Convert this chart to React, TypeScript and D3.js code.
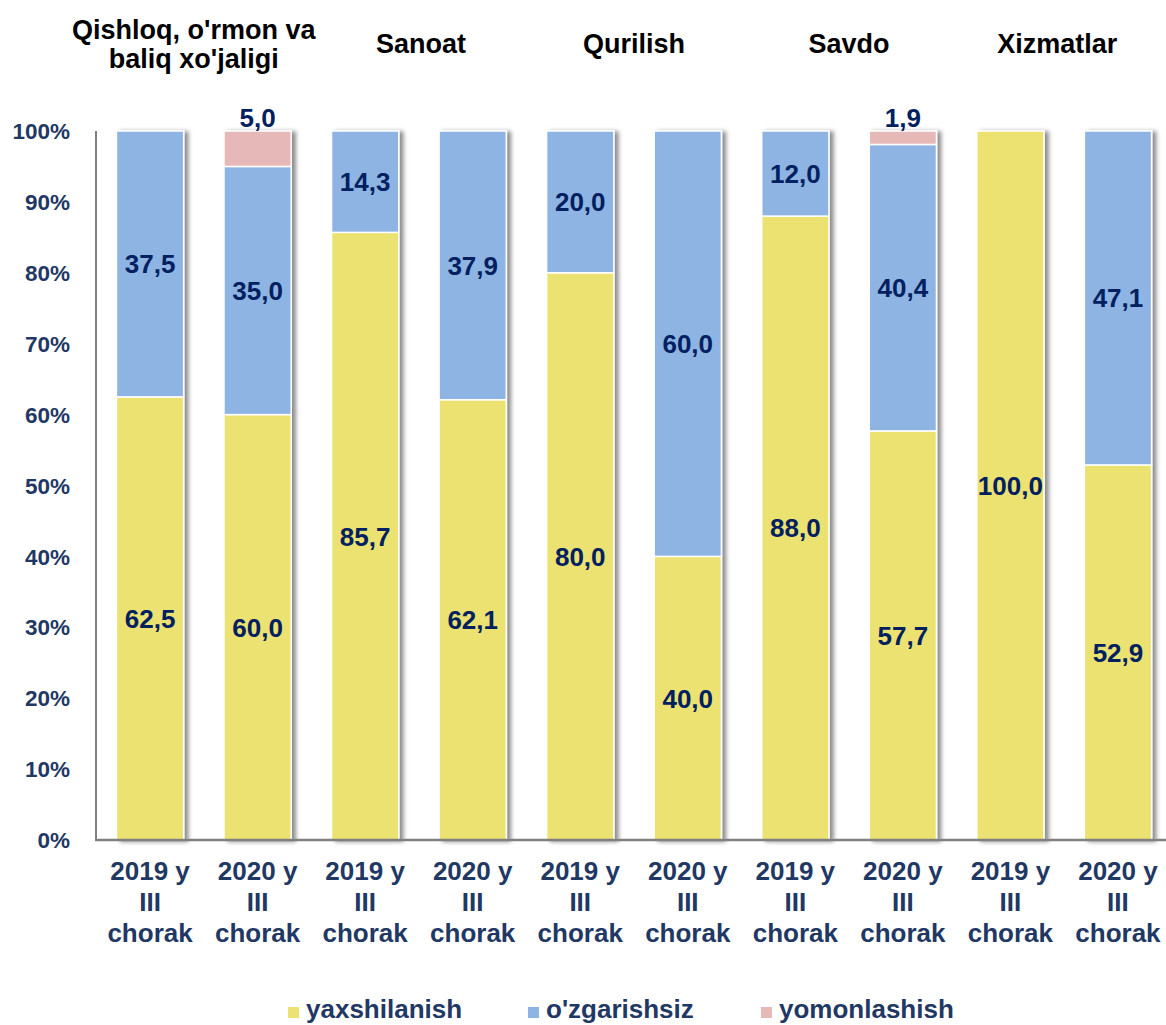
import React from "react";
import * as d3 from "d3";

const categories: string[][] = [
  ["2019 y", "III", "chorak"], ["2020 y", "III", "chorak"],
  ["2019 y", "III", "chorak"], ["2020 y", "III", "chorak"],
  ["2019 y", "III", "chorak"], ["2020 y", "III", "chorak"],
  ["2019 y", "III", "chorak"], ["2020 y", "III", "chorak"],
  ["2019 y", "III", "chorak"], ["2020 y", "III", "chorak"],
];
const groupTitles: string[][] = [
  ["Qishloq, o'rmon va", "baliq xo'jaligi"],
  ["Sanoat"],
  ["Qurilish"],
  ["Savdo"],
  ["Xizmatlar"],
];
const yaxshilanish = [62.5, 60.0, 85.7, 62.1, 80.0, 40.0, 88.0, 57.7, 100.0, 52.9];
const ozgarishsiz = [37.5, 35.0, 14.3, 37.9, 20.0, 60.0, 12.0, 40.4, 0, 47.1];
const yomonlashish = [0, 5.0, 0, 0, 0, 0, 0, 1.9, 0, 0];
const seriesNames = ["yaxshilanish", "o'zgarishsiz", "yomonlashish"];
const seriesColors = ["#EBE271", "#8EB4E3", "#E6B9B8"];
const yTicks = [0, 10, 20, 30, 40, 50, 60, 70, 80, 90, 100];

const W = 1166, H = 1025;
const plotLeft = 96, plotRight = 1172, plotTop = 131, plotBottom = 840;
const FONT = "'Liberation Sans', Arial, sans-serif";
const tickColor = "#1F3864";
const valueColor = "#002060";

const fmt = (v: number) => v.toFixed(1).replace(".", ",");

export default function App() {
  const idx = d3.range(categories.length);
  const x = d3.scaleBand<number>().domain(idx).range([plotLeft, plotRight]).paddingInner(0.375).paddingOuter(0.19);
  const y = d3.scaleLinear().domain([0, 100]).range([plotBottom, plotTop]);
  const rows = idx.map((i) => ({ i, s0: yaxshilanish[i], s1: ozgarishsiz[i], s2: yomonlashish[i] }));
  const stack = d3.stack<any>().keys(["s0", "s1", "s2"]);
  const layers = stack(rows);

  return (
    <svg width={W} height={H} style={{ position: "absolute", left: 0, top: 0 }} fontFamily={FONT}>
      <defs>
        <filter id="sh" x="-20%" y="-5%" width="140%" height="110%">
          <feDropShadow dx="4" dy="1" stdDeviation="2.2" floodColor="#000" floodOpacity="0.45" />
        </filter>
      </defs>
      {/* bars */}
      {idx.map((i) => (
        <g key={i} filter="url(#sh)">
          {layers.map((layer, k) => {
            const d = layer[i];
            if (d[1] - d[0] <= 0) return null;
            return (
              <rect key={k} x={x(i)!} width={x.bandwidth()} y={y(d[1])} height={y(d[0]) - y(d[1])}
                fill={seriesColors[k]} stroke="#fff" strokeWidth={1.5} />
            );
          })}
        </g>
      ))}
      {/* axes */}
      <line x1={plotLeft} x2={plotLeft} y1={plotTop} y2={plotBottom} stroke="#808080" strokeWidth={2} />
      <line x1={plotLeft - 1} x2={plotRight} y1={plotBottom} y2={plotBottom} stroke="#808080" strokeWidth={2.5} />
      {yTicks.map((t) => (
        <text key={t} x={70} y={y(t)} dy="0.36em" textAnchor="end" fontSize={22.5} fontWeight="bold" fill={tickColor}>
          {t}%
        </text>
      ))}
      {/* value labels */}
      {idx.map((i) =>
        layers.map((layer, k) => {
          const d = layer[i];
          const v = d[1] - d[0];
          if (v <= 0) return null;
          const cx = x(i)! + x.bandwidth() / 2;
          const cy = k === 2 ? y(d[1]) - 13 : y((d[0] + d[1]) / 2);
          return (
            <text key={`${i}-${k}`} x={cx} y={cy} dy="0.36em" textAnchor="middle" fontSize={26} fontWeight="bold" fill={valueColor}>
              {fmt(v)}
            </text>
          );
        })
      )}
      {/* category labels */}
      {idx.map((i) => (
        <text key={i} textAnchor="middle" fontSize={26} fontWeight="bold" fill={tickColor}>
          {categories[i].map((line, j) => (
            <tspan key={j} x={x(i)! + x.bandwidth() / 2} y={880 + j * 31}>{line}</tspan>
          ))}
        </text>
      ))}
      {/* group titles */}
      {groupTitles.map((lines, g) => {
        const cx = (x(g * 2)! + x(g * 2 + 1)! + x.bandwidth()) / 2 + [-10, 2, 0, 0, -7][g];
        const base = 52 - ((lines.length - 1) * 29) / 2 + 1;
        return (
          <text key={g} textAnchor="middle" fontSize={27} fontWeight="bold" fill="#000">
            {lines.map((l, j) => (
              <tspan key={j} x={cx} y={base + j * 29}>{l}</tspan>
            ))}
          </text>
        );
      })}
      {/* legend */}
      {seriesNames.map((n, k) => {
        const lx = [288, 528, 761][k];
        return (
          <g key={n}>
            <rect x={lx} y={1007} width={11} height={11} fill={seriesColors[k]} />
            <text x={lx + 18} y={1018} fontSize={26} fontWeight="bold" fill={tickColor}>{n}</text>
          </g>
        );
      })}
    </svg>
  );
}
